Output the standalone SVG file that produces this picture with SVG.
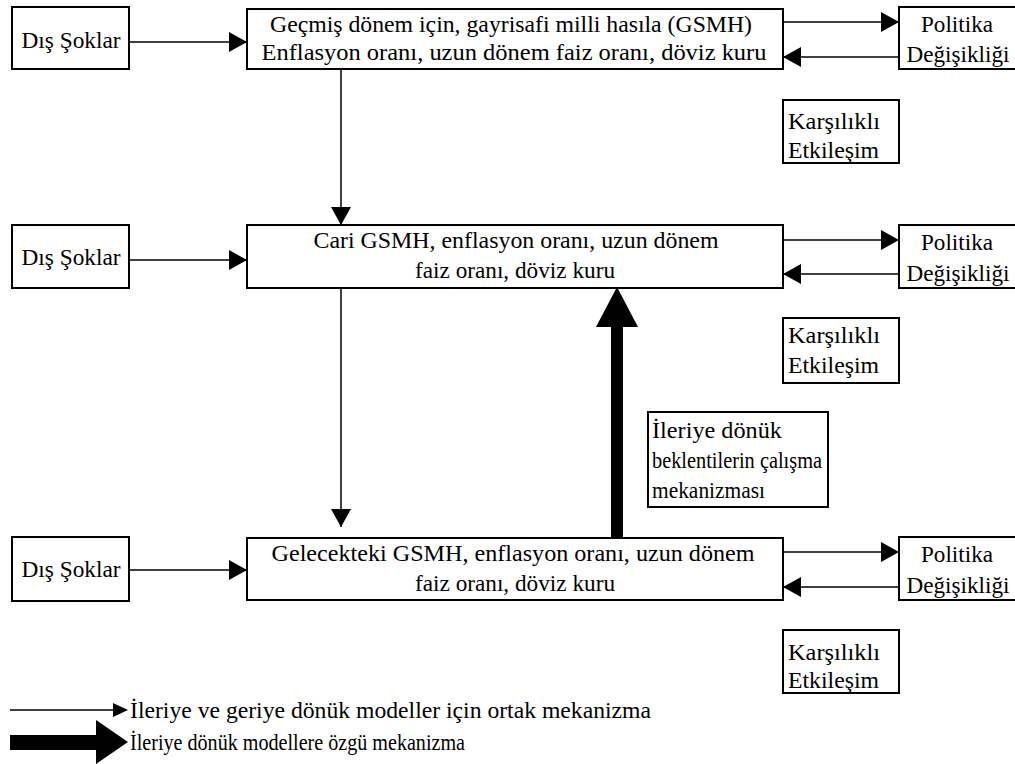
<svg xmlns="http://www.w3.org/2000/svg" width="1015" height="764" viewBox="0 0 1015 764">
<style>
.box{fill:#fff;stroke:#000;stroke-width:2}
.t{font-family:"Liberation Serif","Times New Roman",serif;font-size:24px;fill:#000}
.c{text-anchor:middle}
.ln{stroke:#000;stroke-width:1.5;fill:none}
</style>
<defs>
<marker id="ah" markerUnits="userSpaceOnUse" markerWidth="18" markerHeight="20" viewBox="0 0 18 20" refX="18" refY="10" orient="auto">
<path d="M0,0 L18,10 L0,20 z" fill="#000"/>
</marker>
<marker id="big" markerUnits="userSpaceOnUse" markerWidth="40" markerHeight="42" viewBox="0 0 40 42" refX="0" refY="21" orient="auto">
<path d="M0,0 L40,21 L0,42 z" fill="#000"/>
</marker>
</defs>
<rect width="1015" height="764" fill="#fff"/>

<g id="connectors">
<line class="ln" x1="129" y1="42" x2="247" y2="42" marker-end="url(#ah)"/>
<line class="ln" x1="129" y1="260" x2="247" y2="260" marker-end="url(#ah)"/>
<line class="ln" x1="129" y1="570" x2="247" y2="570" marker-end="url(#ah)"/>
<line class="ln" x1="783" y1="22" x2="899" y2="22" marker-end="url(#ah)"/>
<line class="ln" x1="899" y1="57" x2="783" y2="57" marker-end="url(#ah)"/>
<line class="ln" x1="783" y1="240" x2="899" y2="240" marker-end="url(#ah)"/>
<line class="ln" x1="899" y1="274" x2="783" y2="274" marker-end="url(#ah)"/>
<line class="ln" x1="783" y1="552" x2="899" y2="552" marker-end="url(#ah)"/>
<line class="ln" x1="899" y1="587" x2="783" y2="587" marker-end="url(#ah)"/>
<line class="ln" x1="341" y1="69" x2="341" y2="225" marker-end="url(#ah)"/>
<line class="ln" x1="341" y1="288" x2="341" y2="527" marker-end="url(#ah)"/>
<line x1="617" y1="538" x2="617" y2="327" stroke="#000" stroke-width="12" marker-end="url(#big)"/>
</g>

<g id="dis1"><rect class="box" x="12" y="7" width="117" height="62"/><text class="t c" x="71" y="48" textLength="99" lengthAdjust="spacingAndGlyphs">Dış Şoklar</text></g>
<g id="dis2"><rect class="box" x="12" y="225" width="117" height="63"/><text class="t c" x="71" y="265" textLength="99" lengthAdjust="spacingAndGlyphs">Dış Şoklar</text></g>
<g id="dis3"><rect class="box" x="12" y="537" width="117" height="64"/><text class="t c" x="71" y="577" textLength="99" lengthAdjust="spacingAndGlyphs">Dış Şoklar</text></g>

<g id="main1"><rect class="box" x="247" y="9" width="536" height="60"/>
<text class="t c" x="511" y="32" textLength="482" lengthAdjust="spacingAndGlyphs">Geçmiş dönem için, gayrisafi milli hasıla (GSMH)</text>
<text class="t c" x="514" y="60" textLength="505" lengthAdjust="spacingAndGlyphs">Enflasyon oranı, uzun dönem faiz oranı, döviz kuru</text></g>
<g id="main2"><rect class="box" x="247" y="225" width="536" height="63"/>
<text class="t c" x="516" y="248" textLength="405" lengthAdjust="spacingAndGlyphs">Cari GSMH, enflasyon oranı, uzun dönem</text>
<text class="t c" x="515" y="278" textLength="200" lengthAdjust="spacingAndGlyphs">faiz oranı, döviz kuru</text></g>
<g id="main3"><rect class="box" x="247" y="538" width="536" height="62"/>
<text class="t c" x="513" y="561" textLength="483" lengthAdjust="spacingAndGlyphs">Gelecekteki GSMH, enflasyon oranı, uzun dönem</text>
<text class="t c" x="515" y="591" textLength="200" lengthAdjust="spacingAndGlyphs">faiz oranı, döviz kuru</text></g>

<g id="pol1"><rect class="box" x="899" y="7" width="120" height="62"/>
<text class="t c" x="957" y="32" textLength="72" lengthAdjust="spacingAndGlyphs">Politika</text><text class="t c" x="958" y="62" textLength="103" lengthAdjust="spacingAndGlyphs">Değişikliği</text></g>
<g id="pol2"><rect class="box" x="899" y="225" width="120" height="63"/>
<text class="t c" x="957" y="250" textLength="72" lengthAdjust="spacingAndGlyphs">Politika</text><text class="t c" x="958" y="281" textLength="103" lengthAdjust="spacingAndGlyphs">Değişikliği</text></g>
<g id="pol3"><rect class="box" x="899" y="537" width="120" height="63"/>
<text class="t c" x="957" y="562" textLength="72" lengthAdjust="spacingAndGlyphs">Politika</text><text class="t c" x="958" y="593" textLength="103" lengthAdjust="spacingAndGlyphs">Değişikliği</text></g>

<g id="kar1"><rect class="box" x="783" y="100" width="116" height="63"/>
<text class="t" x="788" y="129" textLength="92" lengthAdjust="spacingAndGlyphs">Karşılıklı</text><text class="t" x="788" y="158" textLength="91" lengthAdjust="spacingAndGlyphs">Etkileşim</text></g>
<g id="kar2"><rect class="box" x="783" y="318" width="116" height="65"/>
<text class="t" x="788" y="343" textLength="92" lengthAdjust="spacingAndGlyphs">Karşılıklı</text><text class="t" x="788" y="373" textLength="91" lengthAdjust="spacingAndGlyphs">Etkileşim</text></g>
<g id="kar3"><rect class="box" x="783" y="630" width="116" height="63"/>
<text class="t" x="788" y="660" textLength="92" lengthAdjust="spacingAndGlyphs">Karşılıklı</text><text class="t" x="788" y="688" textLength="91" lengthAdjust="spacingAndGlyphs">Etkileşim</text></g>

<g id="ileri"><rect class="box" x="648" y="412" width="180" height="95"/>
<text class="t" x="652" y="438" textLength="130" lengthAdjust="spacingAndGlyphs">İleriye dönük</text>
<text class="t" x="652" y="468" textLength="170" lengthAdjust="spacingAndGlyphs">beklentilerin çalışma</text>
<text class="t" x="652" y="498" textLength="113" lengthAdjust="spacingAndGlyphs">mekanizması</text></g>

<g id="legend">
<line class="ln" x1="10" y1="710" x2="114" y2="710"/>
<polygon points="113,703 128,710 113,717" fill="#000"/>
<text class="t" x="130" y="718" textLength="521" lengthAdjust="spacingAndGlyphs">İleriye ve geriye dönük modeller için ortak mekanizma</text>
<polygon points="10,735 96,735 96,720 128,742 96,764 96,750 10,750" fill="#000"/>
<text class="t" x="130" y="750" textLength="335" lengthAdjust="spacingAndGlyphs">İleriye dönük modellere özgü mekanizma</text>
</g>
</svg>
